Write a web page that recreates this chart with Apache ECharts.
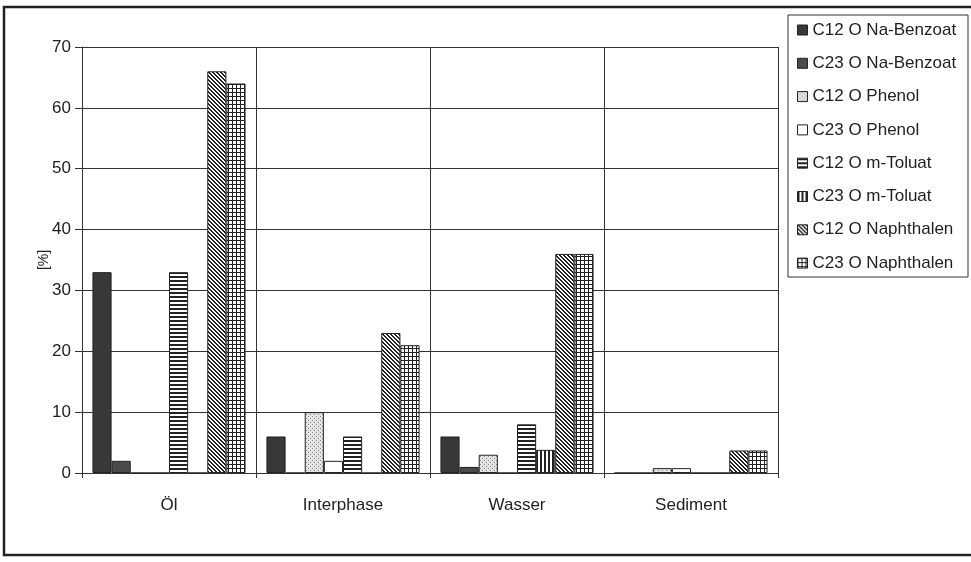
<!DOCTYPE html>
<html>
<head>
<meta charset="utf-8">
<script src="https://cdn.jsdelivr.net/npm/echarts@6/dist/echarts.min.js"></script>
<style>
  html, body { margin: 0; padding: 0; background: #fff; }
  #chart { width: 971px; height: 562px; }
</style>
</head>
<body>
<div id="chart"></div>
<script>
// Kategorien und Werte
const categories = ['Öl', 'Interphase', 'Wasser', 'Sediment'];
const seriesNames = [
  'C12 O Na-Benzoat', 'C23 O Na-Benzoat',
  'C12 O Phenol', 'C23 O Phenol',
  'C12 O m-Toluat', 'C23 O m-Toluat',
  'C12 O Naphthalen', 'C23 O Naphthalen'
];
const c12Benzoat = [33, 6, 6, 0];
const c23Benzoat = [2, 0, 1, 0];
const c12Phenol = [0, 10, 3, 0.8];
const c23Phenol = [0, 2, 0, 0.8];
const c12Toluat = [33, 6, 8, 0];
const c23Toluat = [0, 0, 3.8, 0];
const c12Naphthalen = [66, 23, 36, 3.7];
const c23Naphthalen = [64, 21, 36, 3.7];
const yTicks = [0, 10, 20, 30, 40, 50, 60, 70];

const values = [c12Benzoat, c23Benzoat, c12Phenol, c23Phenol,
  c12Toluat, c23Toluat, c12Naphthalen, c23Naphthalen];

// Schraffuren als Canvas-Muster
function pattern(size, draw) {
  const c = document.createElement('canvas');
  c.width = size; c.height = size;
  const ctx = c.getContext('2d');
  draw(ctx, size);
  return { image: c, repeat: 'repeat' };
}
function solid(col) {
  return pattern(4, function (ctx, s) { ctx.fillStyle = col; ctx.fillRect(0, 0, s, s); });
}
const fills = [
  solid('#383838'),
  solid('#4a4a4a'),
  pattern(4, function (ctx, s) {
    ctx.fillStyle = '#e4e4e4'; ctx.fillRect(0, 0, s, s);
    ctx.fillStyle = '#888'; ctx.fillRect(0, 0, 1, 1); ctx.fillRect(2, 2, 1, 1);
  }),
  solid('#ffffff'),
  pattern(4, function (ctx, s) {
    ctx.fillStyle = '#fff'; ctx.fillRect(0, 0, s, s);
    ctx.fillStyle = '#222'; ctx.fillRect(0, 0, s, 2);
  }),
  pattern(4, function (ctx, s) {
    ctx.fillStyle = '#fff'; ctx.fillRect(0, 0, s, s);
    ctx.fillStyle = '#222'; ctx.fillRect(0, 0, 2, s);
  }),
  pattern(4, function (ctx, s) {
    ctx.fillStyle = '#fff'; ctx.fillRect(0, 0, s, s);
    ctx.fillStyle = '#222';
    for (let i = 0; i < s; i++) { ctx.fillRect(i, i, 1, 1); ctx.fillRect((i + 1) % s, i, 1, 1); }
  }),
  pattern(4, function (ctx, s) {
    ctx.fillStyle = '#fff'; ctx.fillRect(0, 0, s, s);
    ctx.fillStyle = '#222'; ctx.fillRect(0, 0, s, 1); ctx.fillRect(0, 0, 1, s);
  })
];

const chart = echarts.init(document.getElementById('chart'));

const series = seriesNames.map(function (name, i) {
  return {
    name: name,
    type: 'bar',
    data: values[i],
    barGap: '0%',
    barCategoryGap: '12%',
    itemStyle: { color: fills[i], borderColor: '#222', borderWidth: 1 },
    emphasis: { disabled: true }
  };
});

chart.setOption({
  animation: false,
  backgroundColor: '#fff',
  textStyle: { fontFamily: 'Liberation Sans, Arial, sans-serif', color: '#222' },
  grid: { left: 82, right: 193, top: 47, bottom: 89 },
  legend: {
    orient: 'vertical',
    left: 797,
    top: 20,
    padding: 0,
    itemGap: 13.3,
    itemWidth: 10,
    itemHeight: 10,
    icon: 'rect',
    data: seriesNames,
    textStyle: { fontSize: 17, lineHeight: 20, color: '#222', padding: [0, 0, 0, 0] },
    itemStyle: { borderColor: '#222', borderWidth: 1 }
  },
  xAxis: {
    type: 'category',
    data: categories,
    axisLine: { lineStyle: { color: '#333', width: 1 } },
    axisTick: { show: true, length: 5, lineStyle: { color: '#333' } },
    axisLabel: { fontSize: 17, color: '#222', margin: 24 },
    splitLine: { show: true, lineStyle: { color: '#333', width: 1 } }
  },
  yAxis: {
    type: 'value',
    min: yTicks[0],
    max: yTicks[yTicks.length - 1],
    interval: 10,
    name: '[%]',
    nameLocation: 'middle',
    nameGap: 31,
    nameMoveOverlap: false,
    nameRotate: 90,
    nameTextStyle: { fontSize: 14, color: '#222' },
    axisLine: { show: true, lineStyle: { color: '#333', width: 1 } },
    axisTick: { show: true, length: 7, lineStyle: { color: '#333' } },
    axisLabel: { fontSize: 17, color: '#222', margin: 11 },
    splitLine: { show: true, lineStyle: { color: '#333', width: 1 } }
  },
  graphic: [{
    type: 'rect',
    shape: { x: 4, y: 7, width: 980, height: 548 },
    style: { fill: 'none', stroke: '#222', lineWidth: 2.5 },
    silent: true
  }, {
    type: 'rect',
    shape: { x: 788, y: 15, width: 180, height: 262 },
    style: { fill: 'none', stroke: '#333', lineWidth: 1 },
    silent: true
  }],
  series: series
});
</script>
</body>
</html>
